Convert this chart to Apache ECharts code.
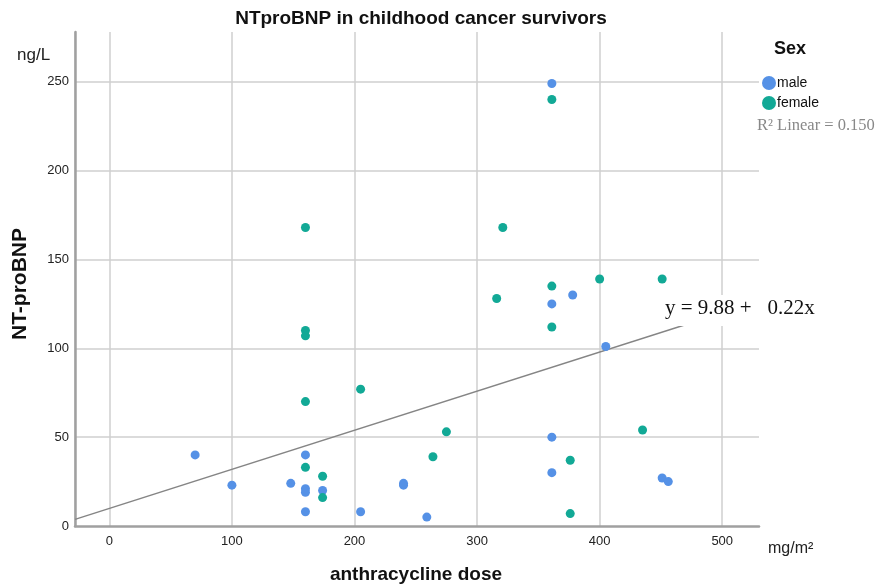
<!DOCTYPE html>
<html>
<head>
<meta charset="utf-8">
<script src="https://cdn.jsdelivr.net/npm/echarts@6/dist/echarts.min.js"></script>
<style>html,body{margin:0;padding:0;background:#fff}#c{width:885px;height:585px}</style>
</head>
<body>
<div id="c"></div>
<script>
// ---- data ----
var maleDose = [70, 100, 148, 160, 160, 160, 160, 174, 205, 240, 240, 259, 361, 361, 361, 361, 378, 405, 451, 456];
var maleNT   = [40, 23, 24, 40, 21, 19, 8, 20, 8, 24, 23, 5, 249, 125, 50, 30, 130, 101, 27, 25];
var femaleDose = [160, 160, 160, 160, 160, 174, 174, 205, 264, 275, 316, 321, 361, 361, 361, 376, 376, 400, 435, 451];
var femaleNT   = [168, 110, 107, 70, 33, 28, 16, 77, 39, 53, 128, 168, 240, 135, 112, 37, 7, 139, 54, 139];
var fitIntercept = 9.88;
var fitSlope = 0.22;
var xTickLabels = ['0', '100', '200', '300', '400', '500'];
var yTickLabels = ['0', '50', '100', '150', '200', '250'];

var X_MIN = -28, X_MAX = 530, Y_MIN = 0, Y_MAX = 278;
function pairs(xs, ys) { return xs.map(function (x, i) { return [x, ys[i]]; }); }
var fitLine = [[X_MIN, fitIntercept + fitSlope * X_MIN], [X_MAX, fitIntercept + fitSlope * X_MAX]];

var chart = echarts.init(document.getElementById('c'), null, { renderer: 'canvas' });
var FONT = 'Liberation Sans';
chart.setOption({
  animation: false,
  legend: {
    orient: 'vertical', left: 757, top: 71,
    itemWidth: 14, itemHeight: 14, itemGap: 6,
    data: [{ name: 'male', icon: 'circle' }, { name: 'female', icon: 'circle' }],
    textStyle: { fontFamily: FONT, fontSize: 14, color: '#111', padding: [0, 0, 0, -4] }
  },
  grid: { left: 75, top: 32, right: 126, bottom: 59 },
  xAxis: {
    type: 'value', min: X_MIN, max: X_MAX,
    axisLine: { show: true, lineStyle: { color: '#a0a0a0', width: 2.5 } },
    axisTick: { show: false },
    splitLine: { show: true, showMaxLine: false, lineStyle: { color: '#cfcfcf', width: 1.5 } },
    axisLabel: {
      showMinLabel: false, showMaxLabel: false, margin: 9,
      fontFamily: FONT, fontSize: 13, color: '#222',
      formatter: function (v) { var s = String(v); return xTickLabels.indexOf(s) >= 0 ? s : ''; }
    }
  },
  yAxis: {
    type: 'value', min: Y_MIN, max: Y_MAX,
    axisLine: { show: true, onZero: false, lineStyle: { color: '#a0a0a0', width: 2.5 } },
    axisTick: { show: false },
    splitLine: { show: true, showMinLine: false, showMaxLine: false, lineStyle: { color: '#cfcfcf', width: 1.5 } },
    axisLabel: {
      showMaxLabel: false, margin: 6,
      fontFamily: FONT, fontSize: 13, color: '#222',
      formatter: function (v) { var s = String(v); return yTickLabels.indexOf(s) >= 0 ? s : ''; }
    }
  },
  series: [
    {
      name: 'fit', type: 'line', data: fitLine, symbol: 'none', silent: true,
      lineStyle: { color: '#858585', width: 1.5 }, z: 3
    },
    {
      name: 'male', type: 'scatter', data: pairs(maleDose, maleNT),
      symbolSize: 9, itemStyle: { color: '#5591e6', opacity: 1 }, z: 4
    },
    {
      name: 'female', type: 'scatter', data: pairs(femaleDose, femaleNT),
      symbolSize: 9, itemStyle: { color: '#12a996', opacity: 1 }, z: 4
    }
  ],
  graphic: [
    { type: 'text', x: 421, y: 9, style: { text: 'NTproBNP in childhood cancer survivors', font: 'bold 19px "Liberation Sans"', fill: '#111', align: 'center' } },
    { type: 'text', left: 17, top: 47, style: { text: 'ng/L', font: '17px "Liberation Sans"', fill: '#222' } },
    { type: 'text', left: 768, top: 541, style: { text: 'mg/m²', font: '16px "Liberation Sans"', fill: '#222' } },
    { type: 'text', x: 416, y: 565, style: { text: 'anthracycline dose', font: 'bold 19px "Liberation Sans"', fill: '#111', align: 'center' } },
    { type: 'text', x: 10, y: 284, rotation: Math.PI / 2, style: { text: 'NT-proBNP', font: 'bold 21px "Liberation Sans"', fill: '#111', align: 'center' } },
    { type: 'text', left: 774, top: 40, style: { text: 'Sex', font: 'bold 18px "Liberation Sans"', fill: '#111' } },
    { type: 'text', left: 757, top: 117, style: { text: 'R² Linear = 0.150', font: '16.5px "Liberation Serif"', fill: '#888' } },
    { type: 'text', left: 661, top: 295, z: 10, style: { text: 'y = 9.88 +   0.22x', font: '21px "Liberation Serif"', fill: '#111', backgroundColor: '#fff', padding: [3, 4, 7, 4] } }
  ]
});
</script>
</body>
</html>
